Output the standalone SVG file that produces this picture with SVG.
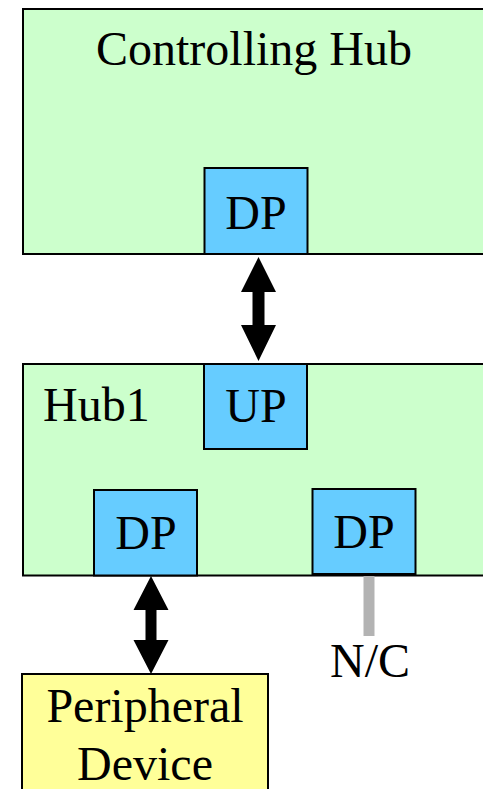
<svg xmlns="http://www.w3.org/2000/svg" width="483" height="789" viewBox="0 0 483 789">
  <style>
    .hub { fill: #ccffcc; stroke: #000; stroke-width: 2; }
    .port { fill: #66ccff; stroke: #000; stroke-width: 2; }
    .dev { fill: #ffff99; stroke: #000; stroke-width: 2; }
    text { font-family: "Liberation Serif", "Times New Roman", serif; font-size: 48px; fill: #000; }
    .c { text-anchor: middle; }
    .arrow { fill: #000; }
    .nc { stroke: #b3b3b3; stroke-width: 11; }
  </style>
  <rect width="483" height="789" fill="#fff"/>

  <g id="controlling-hub">
    <rect class="hub" x="23" y="9" width="470" height="245"/>
    <text class="c" x="254" y="65">Controlling Hub</text>
  </g>
  <g id="ch-dp">
    <rect class="port" x="204.5" y="168" width="103" height="86"/>
    <text class="c" x="256" y="229">DP</text>
  </g>

  <g id="hub1">
    <rect class="hub" x="23" y="364" width="470" height="211.5"/>
    <text x="43" y="421">Hub1</text>
  </g>
  <g id="hub1-up">
    <rect class="port" x="204" y="364" width="103" height="85"/>
    <text class="c" x="256" y="422">UP</text>
  </g>
  <g id="hub1-dp1">
    <rect class="port" x="94" y="490" width="103" height="85.5"/>
    <text class="c" x="146" y="549">DP</text>
  </g>
  <g id="hub1-dp2">
    <rect class="port" x="312.5" y="489" width="103" height="85"/>
    <text class="c" x="364" y="548">DP</text>
  </g>

  <g id="peripheral-device">
    <rect class="dev" x="22" y="674" width="246" height="130"/>
    <text class="c" x="145" y="722">Peripheral</text>
    <text class="c" x="145" y="780">Device</text>
  </g>

  <g id="nc-label">
    <text class="c" x="370" y="677">N/C</text>
  </g>

  <g id="connectors">
    <!-- Controlling Hub DP <-> Hub1 UP -->
    <polygon class="arrow" points="258.5,257 276,292 264.5,292 264.5,325 276,325 258.5,361 241,325 252.5,325 252.5,292 241,292"/>
    <!-- Hub1 DP <-> Peripheral Device -->
    <polygon class="arrow" points="151,576 168.5,610 156.5,610 156.5,640 168.5,640 151,674 133.5,640 145.5,640 145.5,610 133.5,610"/>
    <!-- unconnected port -->
    <line class="nc" x1="369" y1="576" x2="369" y2="636"/>
  </g>
</svg>
